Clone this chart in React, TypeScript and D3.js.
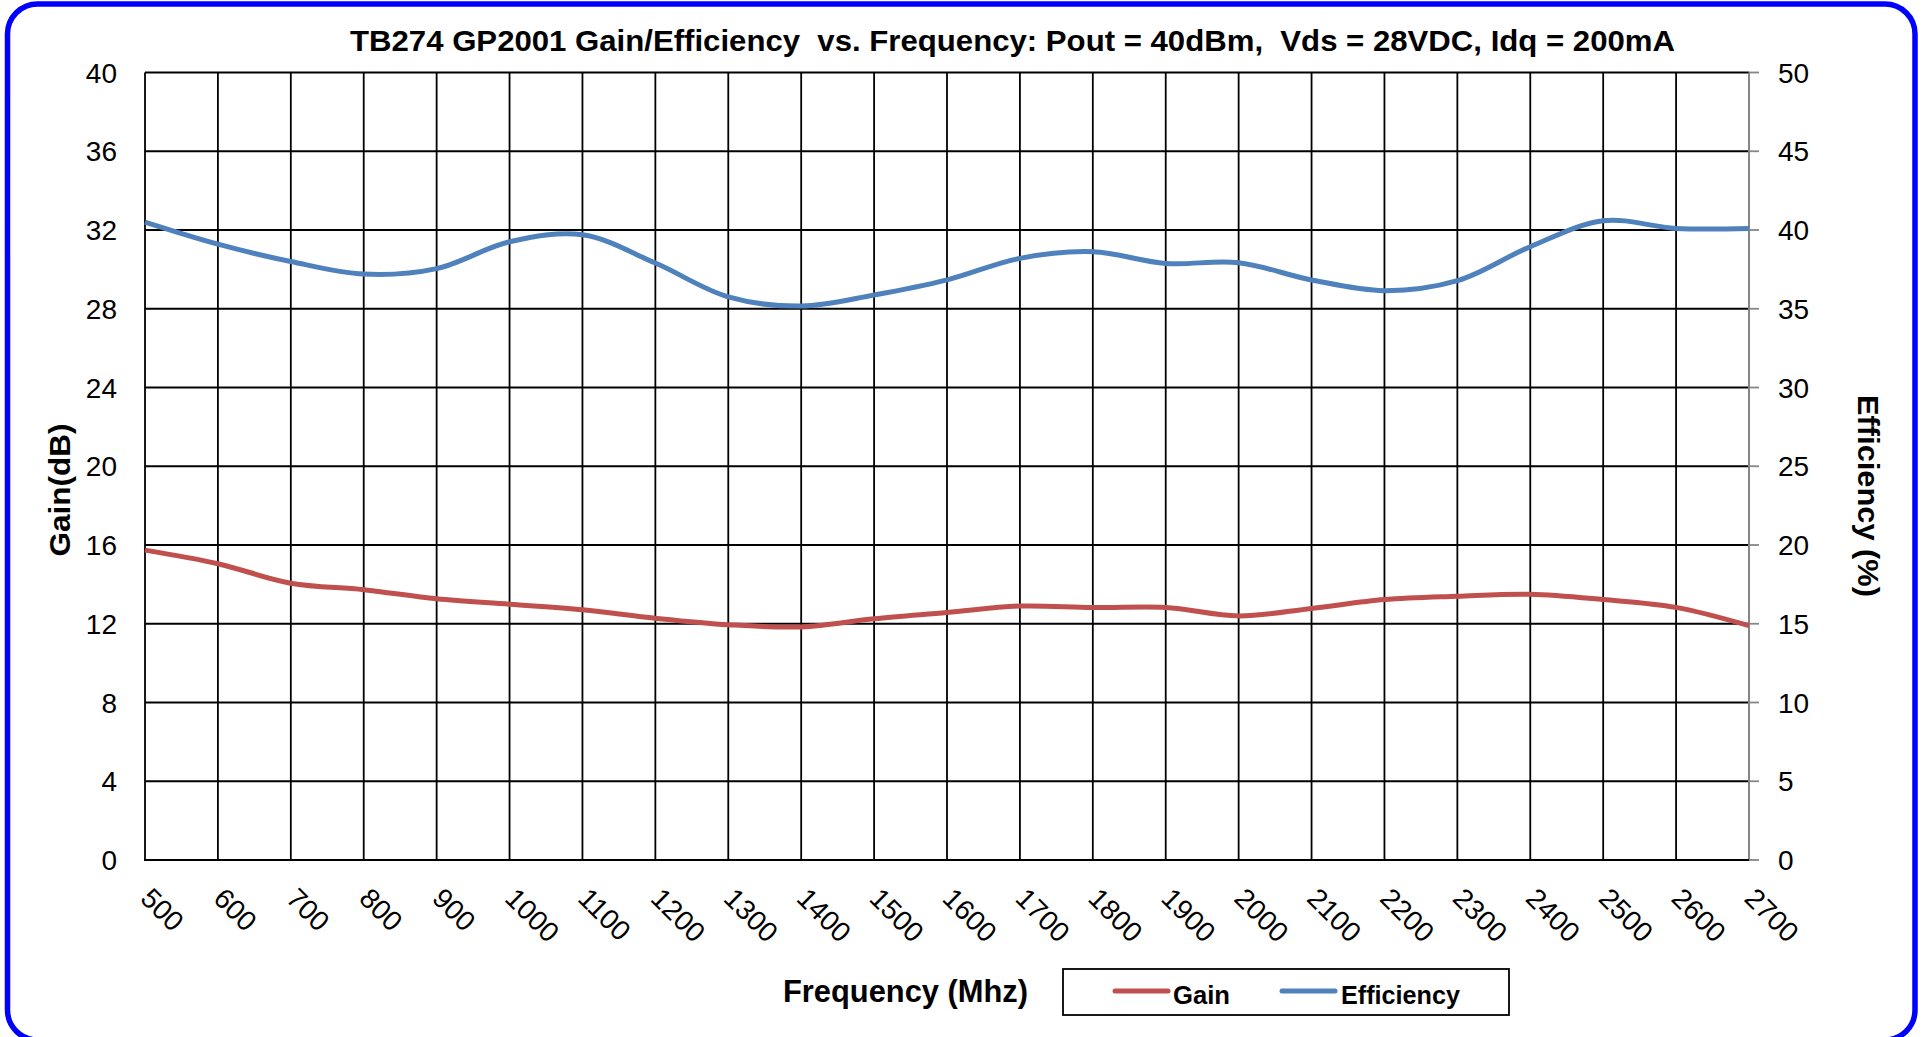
import React from 'react';
import * as d3 from 'd3';

const frequencies = [500, 600, 700, 800, 900, 1000, 1100, 1200, 1300, 1400, 1500, 1600, 1700, 1800, 1900, 2000, 2100, 2200, 2300, 2400, 2500, 2600, 2700];
const gainDb = [15.74, 15.05, 14.06, 13.73, 13.27, 12.99, 12.71, 12.28, 11.95, 11.84, 12.25, 12.57, 12.9, 12.82, 12.83, 12.4, 12.78, 13.23, 13.4, 13.5, 13.23, 12.83, 11.9];
const efficiencyPct = [40.5, 39.1, 38.0, 37.2, 37.55, 39.25, 39.7, 37.9, 35.75, 35.17, 35.87, 36.83, 38.2, 38.62, 37.88, 37.92, 36.83, 36.15, 36.78, 38.94, 40.59, 40.1, 40.1];
const gainTicks = [0, 4, 8, 12, 16, 20, 24, 28, 32, 36, 40];
const effTicks = [0, 5, 10, 15, 20, 25, 30, 35, 40, 45, 50];
const titleText = 'TB274 GP2001 Gain/Efficiency  vs. Frequency: Pout = 40dBm,  Vds = 28VDC, Idq = 200mA';
const xTitle = 'Frequency (Mhz)';
const yLeftTitle = 'Gain(dB)';
const yRightTitle = 'Efficiency (%)';
const seriesNames = ['Gain', 'Efficiency'];

const FONT = '"Liberation Sans", Arial, Helvetica, sans-serif';
const RED = '#C0504D';
const BLUE = '#4F81BD';

export default function App() {
  const W = 1927, H = 1037;
  const L = 145, R = 1749, T = 72.5, B = 860;
  const x = d3.scaleLinear().domain([500, 2700]).range([L, R]);
  const yG = d3.scaleLinear().domain([0, 40]).range([B, T]);
  const yE = d3.scaleLinear().domain([0, 50]).range([B, T]);

  const gainPath = d3.line<number>()
    .x((_, i) => x(frequencies[i]))
    .y(d => yG(d))
    .curve(d3.curveCatmullRom)(gainDb) || '';
  const effPath = d3.line<number>()
    .x((_, i) => x(frequencies[i]))
    .y(d => yE(d))
    .curve(d3.curveCatmullRom)(efficiencyPct) || '';

  return (
    <svg width={W} height={H} style={{ position: 'absolute', left: 0, top: 0, background: '#fff' }} fontFamily={FONT}>
      <rect x={0} y={0} width={W} height={H} fill="#fff" />
      {/* border */}
      <rect x={7.5} y={4} width={1907.5} height={1036} rx={30} ry={30} fill="none" stroke="#0000FF" strokeWidth={5.5} />

      {/* title */}
      <text x={1012.5} y={51} textAnchor="middle" fontSize={30} fontWeight="bold" fill="#000"
        textLength={1325} lengthAdjust="spacingAndGlyphs" style={{ whiteSpace: 'pre' }}>{titleText}</text>

      {/* horizontal gridlines */}
      {gainTicks.map(t => (
        <line key={'h' + t} x1={L} x2={R} y1={yG(t)} y2={yG(t)} stroke="#000" strokeWidth={1.8} />
      ))}
      {/* vertical gridlines */}
      {frequencies.slice(0, -1).map(f => (
        <line key={'v' + f} x1={x(f)} x2={x(f)} y1={T} y2={B} stroke="#000" strokeWidth={1.8} />
      ))}
      {/* right axis */}
      <line x1={R} x2={R} y1={T} y2={B + 1} stroke="#868686" strokeWidth={2} />
      {effTicks.map(t => (
        <line key={'rt' + t} x1={R} x2={R + 10} y1={yE(t)} y2={yE(t)} stroke="#868686" strokeWidth={1.8} />
      ))}
      {/* bottom axis */}
      <line x1={L - 1} x2={R} y1={B} y2={B} stroke="#000" strokeWidth={2} />

      {/* left tick labels */}
      {gainTicks.map(t => (
        <text key={'lt' + t} x={117} y={yG(t) + 10} textAnchor="end" fontSize={28} fill="#000">{t}</text>
      ))}
      {/* right tick labels */}
      {effTicks.map(t => (
        <text key={'rl' + t} x={1778} y={yE(t) + 10} textAnchor="start" fontSize={28} fill="#000">{t}</text>
      ))}
      {/* x tick labels */}
      {frequencies.map(f => (
        <text key={'xl' + f} transform={`translate(${x(f) - 6},${900}) rotate(45)`} textAnchor="start" fontSize={28} fill="#000">{f}</text>
      ))}

      {/* axis titles */}
      <text transform={`translate(70,490) rotate(-90)`} textAnchor="middle" fontSize={30} fontWeight="bold" fill="#000" textLength={133} lengthAdjust="spacingAndGlyphs">{yLeftTitle}</text>
      <text transform={`translate(1858,496) rotate(90)`} textAnchor="middle" fontSize={30} fontWeight="bold" fill="#000" textLength={202} lengthAdjust="spacingAndGlyphs">{yRightTitle}</text>
      <text x={905.5} y={1002} textAnchor="middle" fontSize={32} fontWeight="bold" fill="#000" textLength={245} lengthAdjust="spacingAndGlyphs">{xTitle}</text>

      {/* series */}
      <path d={gainPath} fill="none" stroke={RED} strokeWidth={5} strokeLinejoin="round" />
      <path d={effPath} fill="none" stroke={BLUE} strokeWidth={5} strokeLinejoin="round" />

      {/* legend */}
      <rect x={1063} y={969} width={446} height={46} fill="#fff" stroke="#000" strokeWidth={1.8} />
      <line x1={1115} x2={1168} y1={991} y2={991} stroke={RED} strokeWidth={5} strokeLinecap="round" />
      <text x={1173} y={1004} fontSize={26} fontWeight="bold" fill="#000" textLength={57} lengthAdjust="spacingAndGlyphs">{seriesNames[0]}</text>
      <line x1={1282} x2={1335} y1={991} y2={991} stroke={BLUE} strokeWidth={5} strokeLinecap="round" />
      <text x={1341} y={1004} fontSize={26} fontWeight="bold" fill="#000" textLength={119} lengthAdjust="spacingAndGlyphs">{seriesNames[1]}</text>
    </svg>
  );
}
